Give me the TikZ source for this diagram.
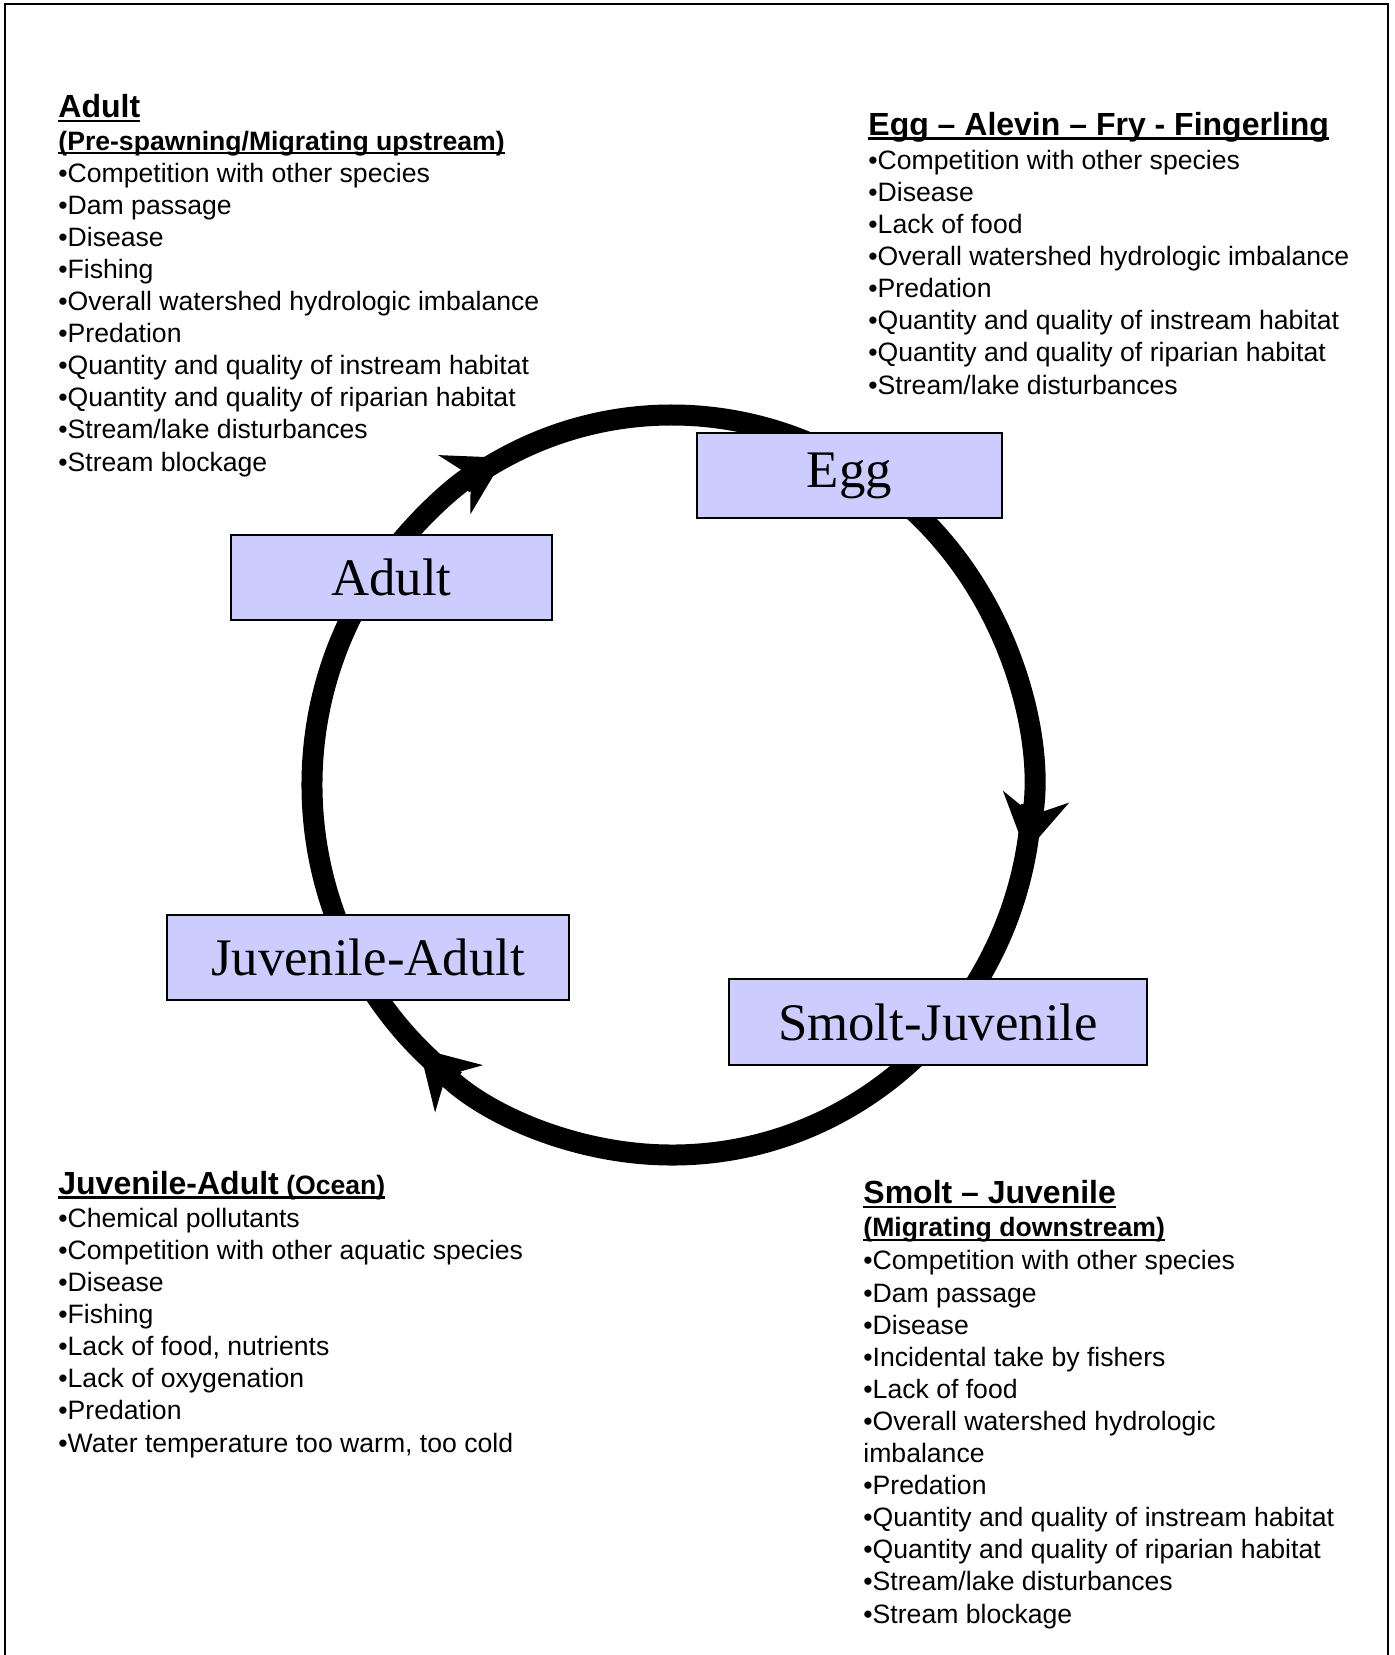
\documentclass[tikz,border=0pt]{standalone}
\usepackage{fontspec}
\setmainfont{Liberation Sans}
\newfontfamily\timesfont{Liberation Serif}
\usetikzlibrary{arrows.meta}
\definecolor{stagefill}{RGB}{204,204,255}
% underlined headings
\newcommand{\undl}[1]{\setbox0\hbox{#1}\rlap{\rule[-2.2pt]{\wd0}{1.2pt}}\box0}
\newcommand{\stagehead}[1]{{\fontsize{16pt}{16.05pt}\selectfont\bfseries\undl{#1}}}
\newcommand{\stagesub}[1]{{\bfseries\undl{#1}}}

\begin{document}
\begin{tikzpicture}[x=0.5pt,y=-0.5pt,
    stage/.style={draw=black,line width=1pt,fill=stagefill,minimum height=42.5pt,
      inner sep=0pt,font=\timesfont\fontsize{26.4pt}{30pt}\selectfont},
    lifearc/.style={line width=10.5pt,-{Stealth[length=28pt,width=33pt,inset=9pt]}},
    factors/.style={anchor=base west,align=left,inner sep=0pt,
      font=\fontsize{13.3pt}{16.05pt}\selectfont}]
    \useasboundingbox (0,0) rectangle (1395,1655);
    % Frame (open at the bottom)
    \draw[line width=1.2pt] (5,1655) -- (5,4) -- (1388,4) -- (1388,1655);
    % Life cycle ring, each arc starts under the previous head
    \coordinate (hub) at (672,785);
    \draw[lifearc] ([shift={(127:360 and 370)}]hub)
      arc[start angle=127, end angle=242.2, x radius=360, y radius=370];
    \draw[lifearc] ([shift={(234.5:360 and 370)}]hub)
      arc[start angle=234.5, end angle=370.5, x radius=360, y radius=370];
    \draw[lifearc] ([shift={(3:360 and 370)}]hub)
      arc[start angle=3, end angle=134.6, x radius=360, y radius=370];
    % Stages
    \node[stage,minimum width=152.5pt] (egg) at (849.5,475.5) {Egg};
    \node[stage,minimum width=160.5pt] (adult) at (391.5,577.5) {Adult};
    \node[stage,minimum width=201pt] (juvadult) at (368,957.5) {Juvenile-Adult};
    \node[stage,minimum width=209pt,minimum height=43pt] (smolt) at (938,1022) {Smolt-Juvenile};
    % Limiting factors (anchored on the last line)
    \node[factors] (adultlist) at (58,471) {\stagehead{Adult}\\
      \stagesub{(Pre-spawning/Migrating upstream)}\\
      •Competition with other species\\
      •Dam passage\\
      •Disease\\
      •Fishing\\
      •Overall watershed hydrologic imbalance\\
      •Predation\\
      •Quantity and quality of instream habitat\\
      •Quantity and quality of riparian habitat\\
      •Stream/lake disturbances\\
      •Stream blockage};
    \node[factors] (egglist) at (868,394) {\stagehead{Egg – Alevin – Fry - Fingerling}\\[1pt]
      •Competition with other species\\
      •Disease\\
      •Lack of food\\
      •Overall watershed hydrologic imbalance\\
      •Predation\\
      •Quantity and quality of instream habitat\\
      •Quantity and quality of riparian habitat\\
      •Stream/lake disturbances};
    \node[factors] (oceanlist) at (58,1452) {\undl{\stagehead{Juvenile-Adult} \textbf{(Ocean)}}\\[0.5pt]
      •Chemical pollutants\\
      •Competition with other aquatic species\\
      •Disease\\
      •Fishing\\
      •Lack of food, nutrients\\
      •Lack of oxygenation\\
      •Predation\\
      •Water temperature too warm, too cold};
    \node[factors] (smoltlist) at (863,1623) {\stagehead{Smolt – Juvenile}\\[0.5pt]
      \stagesub{(Migrating downstream)}\\[0.5pt]
      •Competition with other species\\
      •Dam passage\\
      •Disease\\
      •Incidental take by fishers\\
      •Lack of food\\
      •Overall watershed hydrologic\\
      imbalance\\
      •Predation\\
      •Quantity and quality of instream habitat\\
      •Quantity and quality of riparian habitat\\
      •Stream/lake disturbances\\
      •Stream blockage};
\end{tikzpicture}
\end{document}
